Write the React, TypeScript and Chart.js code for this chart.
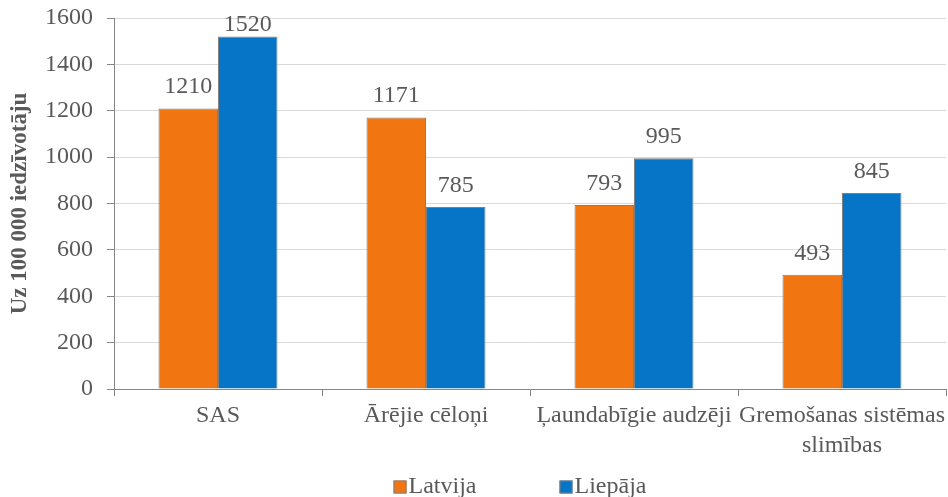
import React, { useEffect, useRef } from 'react';
import { Chart, registerables } from 'chart.js';

Chart.register(...registerables);

const categories: (string | string[])[] = [
  'SAS',
  'Ārējie cēloņi',
  'Ļaundabīgie audzēji',
  ['Gremošanas sistēmas', 'slimības'],
];
const seriesNames = ['Latvija', 'Liepāja'];
const latvijaValues = [1210, 1171, 793, 493];
const liepajaValues = [1520, 785, 995, 845];
const yMin = 0;
const yMax = 1600;
const yStep = 200;
const axisTitle = 'Uz 100 000 iedzīvotāju';

const FONT = '"Liberation Serif", "Times New Roman", Tinos, "DejaVu Serif", serif';
const TEXT = '#595959';
const AXIS = '#868686';
const GRID = '#D9D9D9';
const ORANGE = '#F17612';
const BLUE = '#0675C8';
const BAR_BORDER = '#7F7F7F';

const dataLabelPlugin = {
  id: 'dataLabels',
  afterDatasetsDraw(chart: any) {
    const ctx = chart.ctx;
    ctx.save();
    ctx.font = `24px ${FONT}`;
    ctx.fillStyle = TEXT;
    ctx.textAlign = 'center';
    ctx.textBaseline = 'alphabetic';
    chart.data.datasets.forEach((ds: any, di: number) => {
      const meta = chart.getDatasetMeta(di);
      meta.data.forEach((el: any, i: number) => {
        const y = Math.max(el.y - 15, chart.chartArea.top + 13);
        ctx.fillText(String(ds.data[i]), el.x, y);
      });
    });
    ctx.restore();
  },
};

const bottomLegendPlugin = {
  id: 'bottomLegend',
  afterDraw(chart: any) {
    const ctx = chart.ctx;
    ctx.save();
    ctx.font = `24px ${FONT}`;
    const box = 13;
    const gap = 2;
    const spacing = 83;
    const items = chart.data.datasets.map((ds: any) => ({
      text: ds.label as string,
      color: ds.backgroundColor as string,
    }));
    const widths = items.map((it: any) => box + gap + ctx.measureText(it.text).width);
    const total = widths.reduce((a: number, b: number) => a + b, 0) + spacing * (items.length - 1);
    const ca = chart.chartArea;
    let x = (ca.left + ca.right) / 2 - 10 - total / 2;
    const baseline = chart.height - 4;
    items.forEach((it: any, i: number) => {
      const top = baseline - 12.5;
      ctx.fillStyle = it.color;
      ctx.fillRect(x, top, box, box);
      ctx.strokeStyle = BAR_BORDER;
      ctx.lineWidth = 1;
      ctx.strokeRect(x + 0.5, top + 0.5, box - 1, box - 1);
      ctx.fillStyle = TEXT;
      ctx.textAlign = 'left';
      ctx.textBaseline = 'alphabetic';
      ctx.fillText(it.text, x + box + gap, baseline);
      x += widths[i] + spacing;
    });
    ctx.restore();
  },
};

export default function App() {
  const canvasRef = useRef<HTMLCanvasElement | null>(null);

  useEffect(() => {
    if (!canvasRef.current) return;
    const chart = new Chart(canvasRef.current, {
      type: 'bar',
      data: {
        labels: categories as any,
        datasets: [
          {
            label: seriesNames[0],
            data: latvijaValues,
            backgroundColor: ORANGE,
            borderColor: BAR_BORDER,
            borderWidth: 1,
            barPercentage: 1,
            categoryPercentage: 0.572,
          },
          {
            label: seriesNames[1],
            data: liepajaValues,
            backgroundColor: BLUE,
            borderColor: BAR_BORDER,
            borderWidth: 1,
            barPercentage: 1,
            categoryPercentage: 0.572,
          },
        ],
      },
      options: {
        animation: false,
        responsive: true,
        maintainAspectRatio: false,
        layout: { padding: { top: 18, right: 2, bottom: 38, left: 0 } },
        plugins: {
          legend: { display: false },
          tooltip: { enabled: false },
        },
        scales: {
          x: {
            offset: true,
            grid: {
              display: true,
              drawOnChartArea: false,
              offset: true,
              tickLength: 7,
              color: AXIS,
              tickColor: AXIS,
              lineWidth: 1,
            },
            border: { display: true, color: AXIS, width: 1 },
            ticks: {
              color: TEXT,
              font: { family: FONT, size: 24, lineHeight: 1.25 },
              padding: 5,
              maxRotation: 0,
              minRotation: 0,
              autoSkip: false,
            },
            afterFit: (s: any) => {
              s.height = 70;
              s.paddingLeft = 0;
              s.paddingRight = 0;
            },
          },
          y: {
            min: yMin,
            max: yMax,
            ticks: {
              stepSize: yStep,
              color: TEXT,
              font: { family: FONT, size: 24 },
              padding: 14,
              callback: (v: any) => String(v),
            },
            grid: { color: GRID, tickColor: AXIS, tickLength: 7, lineWidth: 1 },
            border: { display: true, color: AXIS, width: 1 },
            title: {
              display: true,
              text: axisTitle,
              color: TEXT,
              font: { family: FONT, size: 23, weight: 'bold' },
              padding: { top: 6, bottom: 0 },
            },
            afterFit: (s: any) => {
              s.width = 114;
              s.paddingTop = 0;
              s.paddingBottom = 0;
            },
          },
        },
      },
      plugins: [dataLabelPlugin, bottomLegendPlugin],
    });
    return () => chart.destroy();
  }, []);

  return (
    <div style={{ position: 'absolute', left: 0, top: 0, width: 948, height: 497 }}>
      <canvas ref={canvasRef} />
    </div>
  );
}
